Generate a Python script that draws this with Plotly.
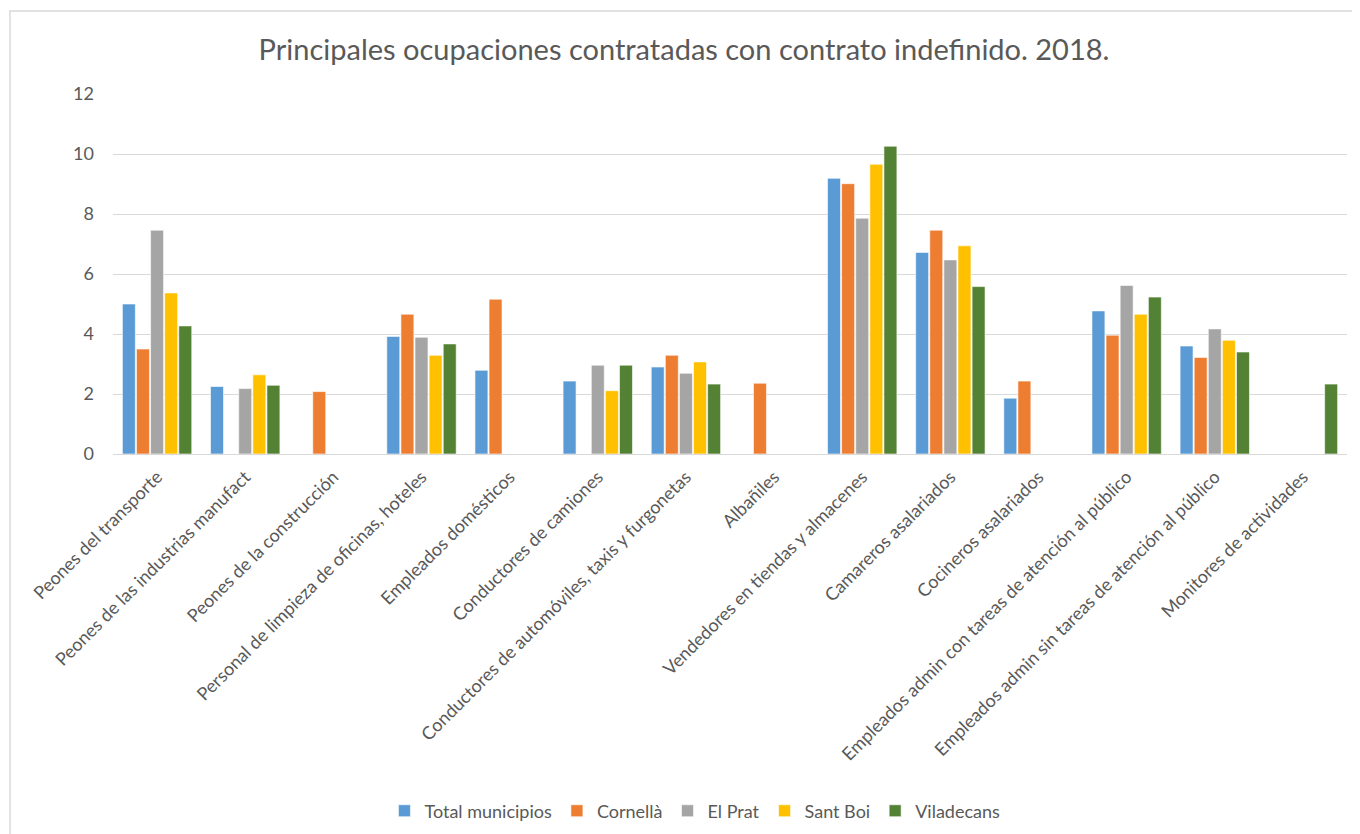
import plotly.graph_objects as go

# ocupaciones (eje x)
categorias = [
    'Peones del transporte',
    'Peones de las industrias manufact',
    'Peones de la construcción',
    'Personal de limpieza de oficinas, hoteles',
    'Empleados domésticos',
    'Conductores de camiones',
    'Conductores de automóviles, taxis y furgonetas',
    'Albañiles',
    'Vendedores en tiendas y almacenes',
    'Camareros asalariados',
    'Cocineros asalariados',
    'Empleados admin con tareas de atención al público',
    'Empleados admin sin tareas de atención al público',
    'Monitores de actividades',
]

total_municipios = [5.0, 2.25, None, 3.92, 2.79, 2.43, 2.90, None, 9.19, 6.72, 1.86, 4.77, 3.60, None]
cornella = [3.50, None, 2.08, 4.66, 5.16, None, 3.29, 2.36, 9.01, 7.46, 2.43, 3.96, 3.22, None]
el_prat = [7.46, 2.18, None, 3.89, None, 2.96, 2.69, None, 7.86, 6.47, None, 5.62, 4.17, None]
sant_boi = [5.37, 2.64, None, 3.29, None, 2.11, 3.07, None, 9.66, 6.94, None, 4.66, 3.79, None]
viladecans = [4.27, 2.29, None, 3.67, None, 2.96, 2.33, None, 10.26, 5.58, None, 5.23, 3.40, 2.33]

series = [
    ('Total municipios', total_municipios, '#5b9bd5'),
    ('Cornellà', cornella, '#ed7d31'),
    ('El Prat', el_prat, '#a5a5a5'),
    ('Sant Boi', sant_boi, '#ffc000'),
    ('Viladecans', viladecans, '#548235'),
]

fig = go.Figure()
for nombre, valores, color in series:
    fig.add_trace(go.Bar(
        x=categorias,
        y=valores,
        name=nombre,
        marker=dict(color=color, line=dict(color='white', width=0.6)),
    ))

# la página tiene 8px de margen en el body, así que la figura es algo menor
fig.update_layout(
    width=1352,
    height=826,
    paper_bgcolor='white',
    plot_bgcolor='white',
    font=dict(family='Lato, Open Sans, sans-serif', color='#595959', size=18),
    title=dict(
        text='Principales ocupaciones contratadas con contrato indefinido. 2018.',
        x=0.5, xanchor='center', y=0.949, yanchor='middle',
        font=dict(size=29, color='#595959'),
    ),
    barmode='group',
    bargap=0.2,
    bargroupgap=0.08,
    margin=dict(l=105, r=13, t=86, b=380),
    legend=dict(
        orientation='h', x=0.4716, xanchor='center',
        yref='container', y=0.0278, yanchor='middle',
        font=dict(size=18, color='#595959'),
        itemwidth=30,
    ),
    shapes=[dict(
        type='rect', xref='paper', yref='paper',
        x0=-0.0835, x1=1.0085, y0=-1.07, y1=1.2306,
        line=dict(color='#d9d9d9', width=1.5), layer='below',
    )],
)

fig.update_xaxes(
    tickangle=-45,
    tickfont=dict(size=18, color='#595959'),
    showgrid=False,
    showline=False,
    ticks='',
    ticklabelstandoff=8,
)
fig.update_yaxes(
    range=[0, 12],
    dtick=2,
    showgrid=True,
    gridcolor='#d9d9d9',
    gridwidth=1,
    zeroline=True,
    zerolinecolor='#d9d9d9',
    zerolinewidth=1,
    showline=False,
    ticks='',
    tickfont=dict(size=18, color='#595959'),
    ticklabelstandoff=18,
)

fig.write_html('out.html')
